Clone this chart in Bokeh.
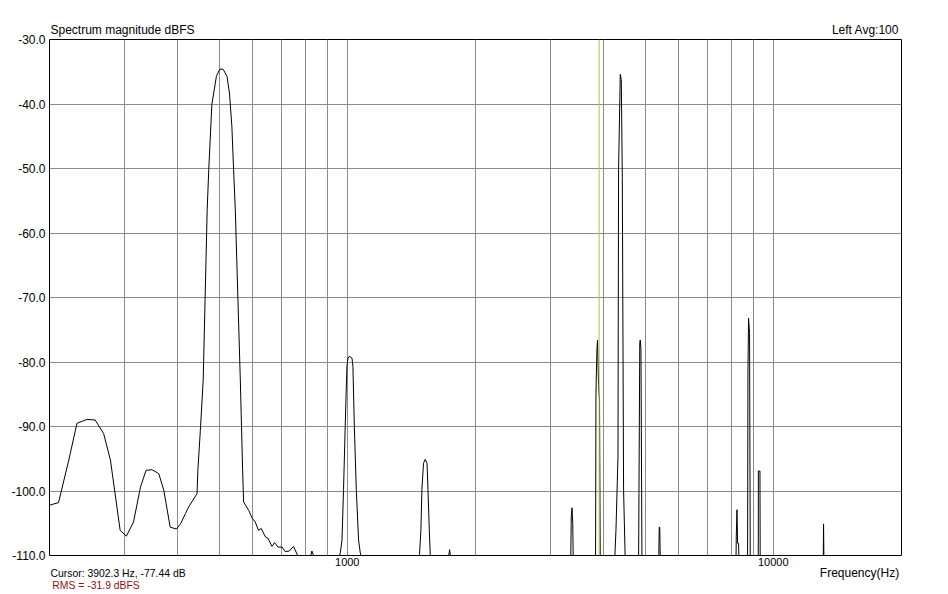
from bokeh.plotting import figure
from bokeh.models import (Range1d, FixedTicker, NumeralTickFormatter, Span,
                          LinearAxis, LinearScale, AllLabels)
from bokeh.embed import file_html
from bokeh.resources import INLINE

# ---- data ----
freq_hz = [
    200, 210, 222, 232, 245, 256, 268, 278, 293, 303, 315, 327, 337, 348, 361, 371,
    384, 397, 406, 417, 424, 444, 446, 452, 459, 469, 473, 481, 493, 502, 511, 522,
    529, 536, 541, 546, 561, 568, 571, 587, 598, 608, 619, 628, 642, 651, 666, 675,
    688, 703, 715, 731, 748, 766, 814, 826, 844,
    952, 963, 972, 980, 989, 998, 1004, 1012, 1026, 1031, 1039, 1050, 1063, 1073, 1085,
    1468, 1478, 1489, 1497, 1510, 1524, 1539, 1547, 1558, 1566, 1580,
    1722, 1739, 1755,
    3346, 3356, 3369, 3383, 3392,
    3827, 3835, 3855, 3868, 3889, 3910, 3925,
    4242, 4273, 4320, 4334, 4374, 4398, 4422, 4453, 4494,
    4829, 4839, 4860, 4873, 4891, 4918,
    5384, 5399, 5414, 5430,
    8175, 8188, 8219, 8246, 8290, 8308,
    8704, 8722, 8750, 8798, 8831,
    9221, 9227, 9306, 9318,
    13102, 13124, 13150,
    20000,
]
magnitude_db = [
    -102.2, -101.8, -95.2, -89.5, -88.9, -89.0, -91.1, -95.2, -106.1, -107.0, -104.8, -99.4, -96.8, -96.7, -97.3, -99.9,
    -105.6, -105.9, -105.1, -103.5, -102.5, -100.4, -96.7, -90.6, -82.8, -56.4, -50.2, -40.1, -35.7, -34.6, -34.6, -35.7,
    -38.3, -43.5, -50.2, -56.4, -82.8, -96.7, -101.7, -103.0, -104.2, -104.8, -106.1, -105.8, -107.1, -107.3, -108.6, -108.0,
    -108.7, -108.7, -109.4, -109.3, -108.6, -110.1, -111, -109.3, -111,
    -111, -109.6, -107.6, -99.8, -90.0, -80.7, -79.4, -79.1, -79.4, -80.7, -90.0, -99.8, -107.6, -109.6, -111,
    -111, -109.8, -106.0, -99.8, -95.7, -95.1, -95.7, -99.8, -106.0, -109.8, -111,
    -111, -109.1, -111,
    -111, -104.0, -102.6, -105.0, -111,
    -111, -84.9, -78.1, -76.6, -83.5, -85.9, -111,
    -111, -106.1, -94.7, -50.2, -35.4, -36.2, -51.2, -99.9, -111,
    -111, -100.4, -77.0, -76.6, -78.0, -111,
    -111, -105.6, -105.6, -111,
    -111, -107.1, -102.9, -108.1, -108.1, -111,
    -111, -81.5, -73.2, -75.6, -111,
    -111, -96.9, -96.9, -111,
    -111, -105.1, -111,
    -111,
]
cursor_hz = 3902.3
x_label_ticks = [1000, 10000]
x_grid_ticks = [300, 400, 500, 600, 700, 800, 900,
                1000, 2000, 3000, 4000, 5000, 6000, 7000, 8000, 9000, 10000]
y_ticks = [-110, -100, -90, -80, -70, -60, -50, -40, -30]
title_text = "Spectrum magnitude dBFS"
channel_text = "Left Avg:100"
xlabel_text = "Frequency(Hz)"
cursor_text = "Cursor:  3902.3 Hz, -77.44 dB"
rms_text = "RMS =  -31.9 dBFS"

FONT = "Liberation Sans"
W, H = 948, 594
FL, FR = 49, 901          # frame left / right in page pixels

p = figure(width=W, height=H, x_axis_type="log",
           x_range=Range1d(200, 20000), y_range=Range1d(-110, -30),
           output_backend="svg", toolbar_location=None,
           min_border_left=FL, min_border_right=W - FR,
           min_border_top=39, min_border_bottom=39)
p.background_fill_color = "white"
p.border_fill_color = "white"
p.outline_line_color = "black"
p.outline_line_width = 1

# main axes
p.xaxis.ticker = FixedTicker(ticks=x_label_ticks)
p.xaxis.formatter = NumeralTickFormatter(format="0")
p.yaxis.ticker = FixedTicker(ticks=y_ticks)
p.yaxis.formatter = NumeralTickFormatter(format="0.0")


def plain(ax, size, color="#000000", standoff=2):
    ax.axis_line_color = None
    ax.major_tick_line_color = None
    ax.minor_tick_line_color = None
    ax.major_tick_out = 0
    ax.major_tick_in = 0
    ax.minor_tick_out = 0
    ax.minor_tick_in = 0
    ax.major_label_text_font = FONT
    ax.major_label_text_font_size = size
    ax.major_label_text_color = color
    ax.major_label_standoff = standoff
    ax.major_label_policy = AllLabels()


plain(p.xaxis[0], "11px", standoff=2)
plain(p.yaxis[0], "12px", standoff=4)

# grid
p.xgrid.ticker = FixedTicker(ticks=x_grid_ticks)
p.ygrid.ticker = FixedTicker(ticks=y_ticks)
for g in (p.xgrid, p.ygrid):
    g.grid_line_color = "#8c8c8c"
    g.grid_line_width = 1
    g.grid_line_alpha = 1.0

# spectrum trace
p.line(freq_hz, magnitude_db, line_color="black", line_width=1)

# cursor
p.add_layout(Span(location=cursor_hz, dimension="height",
                  line_color="#c2bc3c", line_width=1))

# texts around the frame, drawn as axis labels on a linear pixel-like range
p.extra_x_ranges = {"px": Range1d(FL, FR)}
p.extra_x_scales = {"px": LinearScale()}


def text_axis(texts_at, size, side, standoff, color="#000000"):
    ax = LinearAxis(x_range_name="px",
                    ticker=FixedTicker(ticks=list(texts_at.keys())),
                    major_label_overrides=texts_at)
    plain(ax, size, color, standoff)
    p.add_layout(ax, side)
    return ax


# centres of the texts (page pixels)
text_axis({122: title_text, 865: channel_text}, "12px", "above", 3)
text_axis({859: xlabel_text}, "12px", "below", -3)
text_axis({119: cursor_text}, "10.4px", "below", -15)
text_axis({97: rms_text}, "10.4px", "below", -3, "#8e1010")

open("out.html", "w").write(file_html(p, INLINE))
